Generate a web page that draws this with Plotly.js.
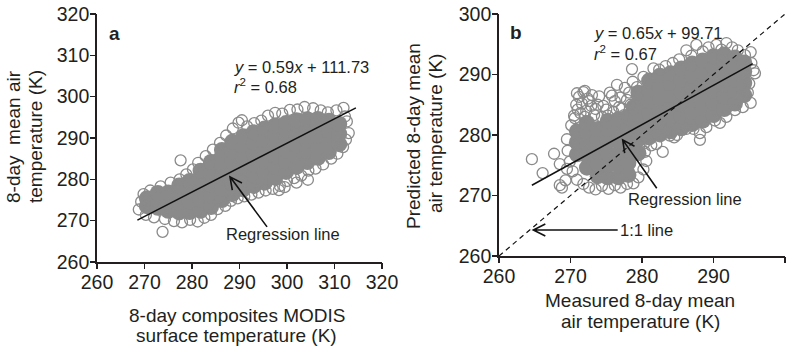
<!DOCTYPE html>
<html><head><meta charset="utf-8">
<script src="https://cdn.plot.ly/plotly-3.0.1.min.js"></script>
<style>html,body{margin:0;padding:0;background:#fff}</style>
</head><body>
<div id="chart" style="width:797px;height:347px"></div>
<script>
// ---------- Panel a: dense core of the cloud ----------
const coreAx = [270.5,270.5, 272.8,272.8,272.8, 275.0,275.0,275.0, 277.3,277.3,277.3,277.3,
  279.5,279.5,279.5,279.5, 281.8,281.8,281.8,281.8,281.8, 284.0,284.0,284.0,284.0,284.0,
  286.3,286.3,286.3,286.3,286.3,286.3, 288.5,288.5,288.5,288.5,288.5,288.5,
  290.8,290.8,290.8,290.8,290.8,290.8, 293.0,293.0,293.0,293.0,293.0,293.0,
  295.3,295.3,295.3,295.3,295.3,295.3, 297.5,297.5,297.5,297.5,297.5,297.5,
  299.8,299.8,299.8,299.8,299.8,299.8, 302.0,302.0,302.0,302.0,302.0,302.0,
  304.3,304.3,304.3,304.3,304.3, 306.5,306.5,306.5,306.5,306.5, 308.8,308.8,308.8,308.8,
  311.0,311.0,311.0];
const coreAy = [273.5,275.4, 273.1,275.0,276.7, 272.4,274.6,276.8, 272.0,274.3,276.6,278.5,
  272.1,274.6,277.0,279.6, 272.4,275.0,277.6,280.2,282.1, 273.3,276.0,278.7,281.4,284.2,
  275.0,277.7,280.4,283.0,285.5,287.1, 276.4,279.0,281.6,284.2,286.8,289.1,
  277.6,280.2,282.8,285.4,288.0,290.4, 278.4,281.0,283.6,286.2,288.8,291.4,
  279.2,281.8,284.4,287.0,289.6,292.3, 280.4,283.0,285.6,288.2,290.8,293.0,
  281.8,284.4,287.0,289.6,292.0,293.6, 283.0,285.6,288.2,290.8,293.3,294.3,
  284.2,286.8,289.4,292.0,294.5, 285.2,287.8,290.4,293.0,294.6, 286.6,289.2,291.8,294.2,
  288.5,291.0,293.4];
// ---------- Panel a: outer (individually visible) circles ----------
const edgeAx = [268.8,269.3,269.8,270.3,271.2,272.0,273.8,273.4,274.3,275.5,276.2,277.6,277.4,277.9,
  278.8,279.6,280.2,281.2,281.3,282.6,282.9,284.0,284.4,285.4,285.9,287.0,287.2,288.2,288.6,289.6,
  289.8,290.5,291.0,291.6,292.5,293.1,294.0,294.6,295.5,296.0,297.0,297.5,298.5,299.0,300.0,300.6,
  301.5,302.2,303.0,303.7,304.5,305.5,306.0,307.1,307.6,308.6,309.3,310.4,310.6,311.9,311.8,312.4,
  313.0,312.6,312.2,298.3,299.5,304.4,302.0];
const edgeAy = [272.7,274.6,276.4,271.4,277.3,270.8,267.3,278.3,270.4,279.2,269.9,284.6,280.0,269.6,
  281.2,270.2,282.4,269.8,284.0,270.7,285.6,271.4,287.2,272.8,288.8,273.6,290.6,274.8,292.3,275.4,
  293.7,294.3,275.9,292.8,276.3,293.6,276.8,294.2,277.3,295.4,277.7,296.1,278.4,295.9,279.6,296.8,
  280.3,296.9,280.9,297.5,282.1,297.2,282.6,296.7,283.6,296.2,285.0,296.7,286.2,297.3,287.8,289.6,
  291.2,294.0,295.2,277.4,278.1,279.9,279.2];
const regA = {slope: 0.59, intercept: 111.73, xFrom: 268.5, xTo: 314.5};

// ---------- Panel b: dense core ----------
const coreBx = [270.9,270.9,270.9, 272.3,272.3,272.3,272.3,272.3, 273.8,273.8,273.8,273.8,273.8,
  275.2,275.2,275.2,275.2,275.2,275.2, 276.7,276.7,276.7,276.7,276.7,276.7,
  278.1,278.1,278.1,278.1,278.1,278.1, 279.5,279.5,279.5,279.5,279.5,279.5,
  281.0,281.0,281.0,281.0,281.0,281.0, 282.5,282.5,282.5,282.5,282.5,282.5,
  284.0,284.0,284.0,284.0,284.0,284.0, 285.5,285.5,285.5,285.5,285.5,285.5,
  287.0,287.0,287.0,287.0,287.0,287.0, 288.5,288.5,288.5,288.5,288.5,288.5,
  290.0,290.0,290.0,290.0,290.0,290.0, 291.5,291.5,291.5,291.5,291.5,291.5,
  293.0,293.0,293.0,293.0,293.0, 294.3,294.3,294.3,294.3, 278.8];
const coreBy = [276.8,278.8,280.6, 274.6,276.6,278.6,280.5,282.0, 273.2,275.2,277.2,279.2,281.0,
  273.0,275.0,277.0,279.0,281.0,282.3, 273.0,275.0,277.0,279.0,280.8,282.6,
  273.4,275.4,277.4,279.3,281.2,283.0, 277.0,279.3,281.3,283.3,285.3,287.0,
  279.6,281.6,283.6,285.6,287.5,289.0, 280.1,282.1,284.1,286.1,288.0,289.8,
  280.6,282.6,284.6,286.6,288.6,290.2, 281.1,283.1,285.1,287.1,289.1,291.0,
  281.8,283.8,285.8,287.8,289.8,291.8, 282.4,284.4,286.4,288.4,290.4,292.3,
  283.3,285.3,287.3,289.3,291.3,293.0, 284.3,286.3,288.3,290.3,292.3,293.3,
  285.2,287.2,289.2,291.2,292.8, 286.6,288.6,290.5,292.0, 284.6];
// ---------- Panel b: outer circles ----------
const edgeBx = [264.6,266.1,267.7,268.5,268.5,268.8,269.5,269.3,
  269.6,269.5,269.9,270.1,270.6,270.3,270.9,271.8,272.6,273.5,274.4,275.3,276.2,277.0,277.9,278.8,279.5,280.2,280.6,280.4,
  271.4,270.8,271.2,271.8,272.4,272.9,273.8,273.3,274.4,275.0,275.5,276.2,276.5,277.6,277.2,277.9,278.6,274.0,272.0,
  270.5,271.0,271.6,272.2,272.6,273.0,273.5,274.6,275.2,270.9,272.0,
  276.0,276.8,277.5,278.4,277.0,278.2,275.8,
  278.7,279.3,280.2,281.6,282.4,283.3,284.3,285.2,286.2,286.9,287.6,288.5,289.3,290.4,291.1,291.8,292.6,293.4,294.4,295.2,295.3,295.6,295.8,295.0,294.8,295.2,294.1,293.0,
  291.8,290.9,290.2,289.0,288.1,288.1,287.2,286.2,284.9,284.5,283.9,282.9,282.0,281.3,283.2,280.3,279.6];
const edgeBy = [276.0,273.7,276.9,275.2,271.7,271.3,274.4,272.5,
  277.4,279.3,275.6,281.6,282.8,274.0,272.6,271.9,271.3,271.0,271.6,271.1,271.7,271.3,271.9,272.0,273.0,274.3,275.7,277.2,
  283.6,285.0,286.3,287.1,286.0,284.8,285.0,283.3,283.0,284.2,287.0,285.6,288.3,287.8,284.4,285.8,290.9,286.4,283.0,
  283.2,284.2,285.2,284.0,285.6,286.6,284.3,284.8,283.2,286.9,287.3,
  283.8,284.6,283.3,285.0,286.2,287.0,286.5,
  288.8,287.9,289.6,291.0,290.8,291.4,291.9,292.5,294.0,293.1,294.9,293.8,294.5,294.9,294.1,295.2,294.5,294.0,293.2,293.7,291.9,290.7,290.2,288.5,287.0,285.3,284.6,284.1,
  283.0,282.0,282.4,281.3,280.3,279.2,281.0,281.0,280.0,279.6,279.9,277.2,278.5,278.3,280.9,278.6,278.2];
const regB = {slope: 0.65, intercept: 99.71, xFrom: 264.6, xTo: 295.5};
const oneToOne = [260, 300];

// ---------- annotation arrows (tail -> head, data units) ----------
const arrowA = {tail: [295.8, 268.5], head: [288.0, 280.6]};
const arrowB = {tail: [282.06, 271.2], head: [277.3, 279.2]};
const arrowOne = {tail: [276.6, 264.3], head: [264.8, 264.3]};

const tickA = [260, 270, 280, 290, 300, 310, 320];
const tickB = [260, 270, 280, 290, 300];

const W = 797, H = 347;
const GRAY = 'rgb(138,138,138)';
const INK = '#231f20';
const FONT = '"Liberation Sans", Arial, Helvetica, sans-serif';

function line(r){ return {x:[r.xFrom, r.xTo], y:[r.slope*r.xFrom + r.intercept, r.slope*r.xTo + r.intercept]}; }
const lA = line(regA), lB = line(regB);

const traces = [
  {x: coreAx, y: coreAy, xaxis:'x', yaxis:'y', mode:'markers', type:'scatter',
   marker:{symbol:'circle', size:16, color:GRAY, line:{width:0}}, hoverinfo:'skip'},
  {x: edgeAx, y: edgeAy, xaxis:'x', yaxis:'y', mode:'markers', type:'scatter',
   marker:{symbol:'circle-open', size:11, color:GRAY, line:{width:1.3, color:GRAY}}},
  {x: lA.x, y: lA.y, xaxis:'x', yaxis:'y', mode:'lines', type:'scatter', line:{color:'#111', width:1.5}},
  {x: coreBx, y: coreBy, xaxis:'x2', yaxis:'y2', mode:'markers', type:'scatter',
   marker:{symbol:'circle', size:16, color:GRAY, line:{width:0}}, hoverinfo:'skip'},
  {x: edgeBx, y: edgeBy, xaxis:'x2', yaxis:'y2', mode:'markers', type:'scatter',
   marker:{symbol:'circle-open', size:11, color:GRAY, line:{width:1.3, color:GRAY}}},
  {x: oneToOne, y: oneToOne, xaxis:'x2', yaxis:'y2', mode:'lines', type:'scatter', line:{color:'#111', width:1.2, dash:'5px,4px'}},
  {x: lB.x, y: lB.y, xaxis:'x2', yaxis:'y2', mode:'lines', type:'scatter', line:{color:'#111', width:1.5}},
  // empty traces that register the tick-mark overlay axes
  {x: [], y: [], xaxis:'x3', yaxis:'y', type:'scatter', mode:'markers'},
  {x: [], y: [], xaxis:'x', yaxis:'y3', type:'scatter', mode:'markers'},
  {x: [], y: [], xaxis:'x4', yaxis:'y2', type:'scatter', mode:'markers'},
  {x: [], y: [], xaxis:'x2', yaxis:'y4', type:'scatter', mode:'markers'}
];

// label-carrying axis (draws line + tick labels; its own ticks are short and invisible)
function ax(domain, range, ticks, anchor, tl){
  return {domain: domain, range: range, tickvals: ticks, ticktext: ticks.map(String), anchor: anchor,
    showline: true, linecolor: INK, linewidth: 1.8, mirror: false, showgrid: false, zeroline: false,
    ticks: 'outside', ticklen: tl, tickwidth: 1, tickcolor: 'rgba(0,0,0,0)',
    tickfont: {family: FONT, size: 19.5, color: INK}, fixedrange: true};
}
// tick-mark axis overlaid on a label axis
function tickAx(over, range, ticks, anchor, side){
  return {overlaying: over, anchor: anchor, side: side, range: range, tickvals: ticks,
    showticklabels: false, showline: false, showgrid: false, zeroline: false,
    ticks: 'outside', ticklen: 6, tickwidth: 1.5, tickcolor: INK, fixedrange: true};
}

const tf = {family: FONT, size: 16.5, color: INK};
const titleFont = {family: FONT, size: 19, color: INK};
function label(x, y, text, angle){
  const a = {xref:'paper', yref:'paper', x: x/W, y: (H-y)/H, xanchor:'center', yanchor:'middle',
    showarrow:false, font:titleFont, text:text};
  if(angle) a.textangle = angle;
  return a;
}
const annotations = [
  {xref:'x', yref:'y', x:288.45, y:307.2, xanchor:'left', yanchor:'middle', showarrow:false, font:tf, text:'<i>y</i> = 0.59<i>x</i> + 111.73'},
  {xref:'x', yref:'y', x:288.45, y:302.6, xanchor:'left', yanchor:'middle', showarrow:false, font:tf, text:'<i>r</i><sup>2</sup> = 0.68'},
  {xref:'x', yref:'y', x:263.6, y:315.4, xanchor:'center', yanchor:'middle', showarrow:false, font:{family:FONT, size:19, color:INK}, text:'<b>a</b>'},
  {xref:'x', yref:'y', x:299.2, y:266.8, xanchor:'center', yanchor:'middle', showarrow:false, font:tf, text:'Regression line'},

  {xref:'x2', yref:'y2', x:273.0, y:296.9, xanchor:'left', yanchor:'middle', showarrow:false, font:tf, text:'<i>y</i> = 0.65<i>x</i> + 99.71'},
  {xref:'x2', yref:'y2', x:273.0, y:293.6, xanchor:'left', yanchor:'middle', showarrow:false, font:tf, text:'<i>r</i><sup>2</sup> = 0.67'},
  {xref:'x2', yref:'y2', x:262.4, y:296.9, xanchor:'center', yanchor:'middle', showarrow:false, font:{family:FONT, size:19, color:INK}, text:'<b>b</b>'},
  {xref:'x2', yref:'y2', x:286.0, y:269.4, xanchor:'center', yanchor:'middle', showarrow:false, font:tf, text:'Regression line'},
  {xref:'x2', yref:'y2', x:280.6, y:264.3, xanchor:'center', yanchor:'middle', showarrow:false, font:tf, text:'1:1 line'},

  label(237, 315, '8-day composites MODIS'),
  label(236, 335, 'surface temperature (K)'),
  label(640, 300, 'Measured 8-day mean'),
  label(640, 321, 'air temperature (K)'),
  label(13, 137, '8-day&nbsp; mean air', -90),
  label(35, 137, 'temperature (K)', -90),
  label(413, 136, 'Predicted 8-day mean', -90),
  label(435, 134, 'air temperature (K)', -90)
];

const layout = {
  width: W, height: H, autosize: false,
  margin: {l:0, r:0, t:0, b:0, pad:0},
  paper_bgcolor: '#fff', plot_bgcolor: 'rgba(0,0,0,0)',
  showlegend: false, font: {family: FONT, color: INK},
  xaxis: ax([97/W, 382/W], [260, 320], tickA, 'y', 2),
  yaxis: ax([(H-262)/H, (H-14)/H], [260, 320], tickA, 'x', 2),
  xaxis2: ax([499/W, 785/W], [260, 300], tickB, 'y2', 2),
  yaxis2: ax([(H-256)/H, (H-14)/H], [260, 300], tickB, 'x2', 2),
  xaxis3: tickAx('x', [260, 320], tickA, 'y', 'bottom'),
  yaxis3: tickAx('y', [260, 320], tickA, 'x', 'left'),
  xaxis4: tickAx('x2', [260, 300], tickB, 'y2', 'bottom'),
  yaxis4: tickAx('y2', [260, 300], tickB, 'x2', 'left'),
  annotations: annotations
};

// open "V" arrow drawn as a path in data units; head size fixed in pixels
function arrowPath(xName, yName, a){
  const xa = layout[xName], ya = layout[yName];
  const kx = (xa.domain[1]-xa.domain[0])*W/(xa.range[1]-xa.range[0]);
  const ky = (ya.domain[1]-ya.domain[0])*H/(ya.range[1]-ya.range[0]);
  const dx = (a.head[0]-a.tail[0])*kx, dy = (a.head[1]-a.tail[1])*ky;
  const len = Math.hypot(dx, dy), ux = dx/len, uy = dy/len;
  const L = 12, Wd = 6;
  const p1 = [a.head[0] + (-L*ux - Wd*uy)/kx, a.head[1] + (-L*uy + Wd*ux)/ky];
  const p2 = [a.head[0] + (-L*ux + Wd*uy)/kx, a.head[1] + (-L*uy - Wd*ux)/ky];
  return 'M' + a.tail[0] + ',' + a.tail[1] + ' L' + a.head[0] + ',' + a.head[1] +
         ' M' + p1[0] + ',' + p1[1] + ' L' + a.head[0] + ',' + a.head[1] + ' L' + p2[0] + ',' + p2[1];
}
layout.shapes = [
  {type:'path', xref:'x', yref:'y', path: arrowPath('xaxis','yaxis', arrowA), line:{color:'#111', width:1.6}, fillcolor:'rgba(0,0,0,0)', layer:'above'},
  {type:'path', xref:'x2', yref:'y2', path: arrowPath('xaxis2','yaxis2', arrowB), line:{color:'#111', width:1.6}, fillcolor:'rgba(0,0,0,0)', layer:'above'},
  {type:'path', xref:'x2', yref:'y2', path: arrowPath('xaxis2','yaxis2', arrowOne), line:{color:'#111', width:1.6}, fillcolor:'rgba(0,0,0,0)', layer:'above'}
];

Plotly.newPlot('chart', traces, layout, {displayModeBar: false, staticPlot: true});
</script>
</body></html>
